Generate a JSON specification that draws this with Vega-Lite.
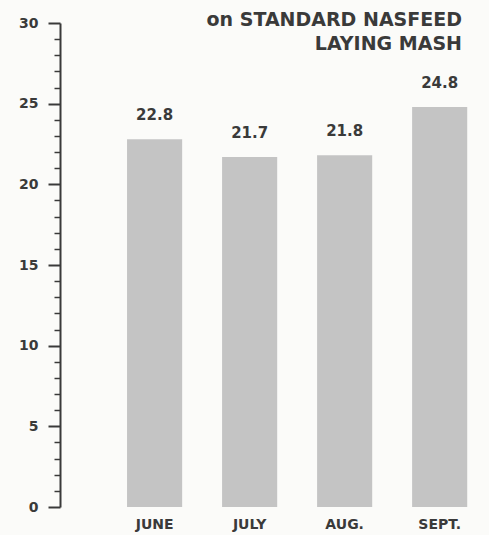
{
  "$schema": "https://vega.github.io/schema/vega-lite/v6.json",
  "width": 420,
  "height": 484,
  "autosize": {"type": "none"},
  "padding": {"left": 60, "top": 23, "right": 9, "bottom": 28},
  "background": "#fbfbf9",
  "title": {
    "text": ["on STANDARD NASFEED", "LAYING MASH"],
    "anchor": "end",
    "frame": "group",
    "orient": "top",
    "offset": -38,
    "font": "DejaVu Sans",
    "fontSize": 19,
    "fontWeight": "bold",
    "color": "#3a3a3a",
    "lineHeight": 24,
    "dx": -18
  },
  "data": {
    "values": [
      {"month": "JUNE", "eggs": 22.8, "label": "22.8"},
      {"month": "JULY", "eggs": 21.7, "label": "21.7"},
      {"month": "AUG.", "eggs": 21.8, "label": "21.8"},
      {"month": "SEPT.", "eggs": 24.8, "label": "24.8"}
    ]
  },
  "config": {
    "view": {"stroke": null},
    "font": "DejaVu Sans",
    "axis": {"grid": false}
  },
  "encoding": {
    "x": {
      "field": "month",
      "type": "nominal",
      "sort": null,
      "scale": {"paddingInner": 0.42, "paddingOuter": 0.42, "align": 0.84},
      "axis": {
        "title": null,
        "domain": false,
        "ticks": false,
        "labelAngle": 0,
        "labelFont": "DejaVu Sans",
        "labelFontSize": 14,
        "labelFontWeight": "bold",
        "labelColor": "#3a3a3a",
        "labelPadding": 10
      }
    },
    "y": {
      "field": "eggs",
      "type": "quantitative",
      "scale": {"domain": [0, 30], "nice": false},
      "axis": {
        "title": null,
        "values": [0,1,2,3,4,5,6,7,8,9,10,11,12,13,14,15,16,17,18,19,20,21,22,23,24,25,26,27,28,29,30],
        "labelExpr": "datum.value % 5 === 0 ? datum.label : ''",
        "tickSize": {"condition": {"test": "datum.value % 5 === 0", "value": 12}, "value": 6},
        "tickWidth": {"condition": {"test": "datum.value % 5 === 0", "value": 2}, "value": 1.5},
        "tickColor": "#3a3a3a",
        "domainColor": "#3a3a3a",
        "domainWidth": 2,
        "labelFont": "DejaVu Sans",
        "labelFontSize": 14,
        "labelFontWeight": "bold",
        "labelColor": "#3a3a3a",
        "labelPadding": 10
      }
    }
  },
  "layer": [
    {"mark": {"type": "bar", "color": "#c4c4c4"}},
    {
      "mark": {"type": "text", "baseline": "bottom", "dy": -16, "fontSize": 15, "fontWeight": "bold", "color": "#3a3a3a"},
      "encoding": {"text": {"field": "label"}}
    }
  ]
}
